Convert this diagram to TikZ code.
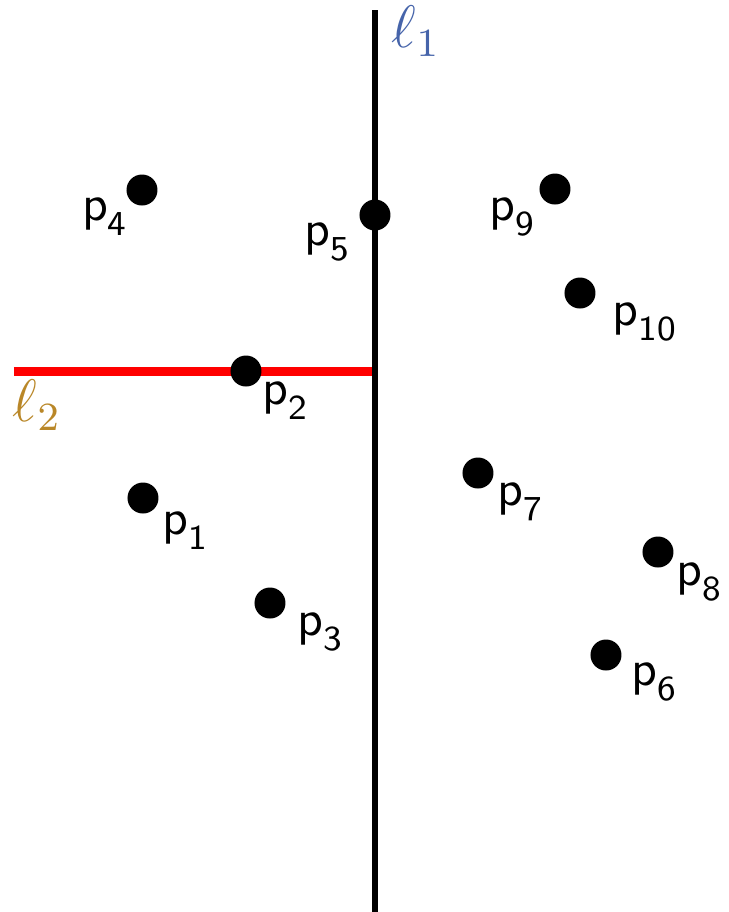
\documentclass[tikz,border=0pt]{standalone}
\usepackage{xcolor}
\usepackage{tikz}
\usetikzlibrary{positioning}

\definecolor{lineblue}{RGB}{70,100,170}
\definecolor{linegold}{RGB}{185,135,40}

% point name with a dropped sans subscript
\newcommand{\ptname}[1]{\textsf{p}\raisebox{-3pt}{\sffamily\scriptsize #1}}

\begin{document}
\begin{tikzpicture}[
        x=0.2pt, y=-0.2pt,
        dot/.style={circle, fill=black, inner sep=0pt, minimum size=6.2pt},
        lbl/.style={inner sep=0pt, anchor=base west},
        linelbl/.style={lbl, font=\large},
        vline/.style={line width=1.3pt, black},
        hline/.style={line width=1.8pt, red}
    ]
        \useasboundingbox (0,0) rectangle (729,912);

        % the two lines
        \coordinate (top) at (375,10);
        \coordinate (bottom) at (375,912);
        \coordinate (left) at (14,371);
        \coordinate (meet) at (372,371);
        \draw[hline] (left) -- (meet);
        \draw[vline] (top) -- (bottom);
        \node[linelbl, text=lineblue] (l1) at (391,47) {$\ell_1$};
        \node[linelbl, text=linegold] (l2) at (12,421) {$\ell_2$};

        % points
        \node[dot] (p1) at (143,498) {};
        \node[dot] (p2) at (246,371) {};
        \node[dot] (p3) at (270,603) {};
        \node[dot] (p4) at (142,190) {};
        \node[dot] (p5) at (375,215) {};
        \node[dot] (p6) at (606,655) {};
        \node[dot] (p7) at (478,473) {};
        \node[dot] (p8) at (658,552) {};
        \node[dot] (p9) at (555,189) {};
        \node[dot] (p10) at (580,293) {};

        % point labels
        \node[lbl] (t1) at (162,534) {\ptname{1}};
        \node[lbl] (t2) at (262,404) {\ptname{2}};
        \node[lbl] (t3) at (297,635) {\ptname{3}};
        \node[lbl] (t4) at (81,220) {\ptname{4}};
        \node[lbl] (t5) at (304,245) {\ptname{5}};
        \node[lbl] (t6) at (631,685) {\ptname{6}};
        \node[lbl] (t7) at (497,505) {\ptname{7}};
        \node[lbl] (t8) at (676,585) {\ptname{8}};
        \node[lbl] (t9) at (489,220) {\ptname{9}};
        \node[lbl] (t10) at (612,325) {\ptname{10}};
    \end{tikzpicture}
\end{document}
